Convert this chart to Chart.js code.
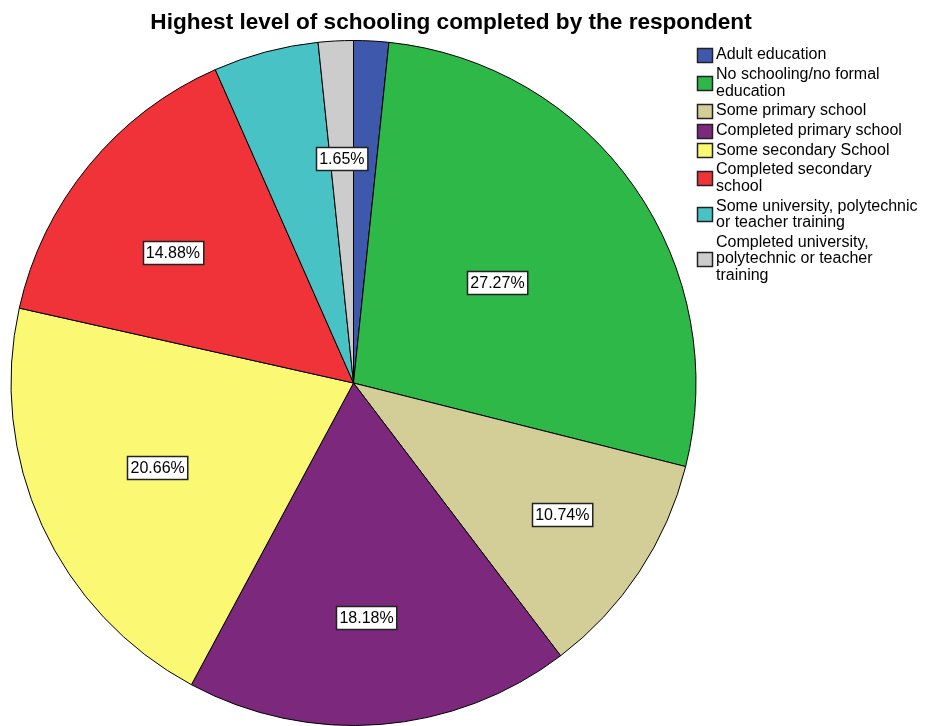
<!DOCTYPE html>
<html>
<head>
<meta charset="utf-8">
<title>Highest level of schooling</title>
<script src="https://cdn.jsdelivr.net/npm/chart.js@4/dist/chart.umd.min.js"></script>
<style>
  html, body { margin: 0; padding: 0; background: #fff; }
  #wrap { position: relative; width: 926px; height: 726px; }
</style>
</head>
<body>
<div id="wrap"><canvas id="schoolingChart"></canvas></div>
<script>
const chartTitle = 'Highest level of schooling completed by the respondent';

// legend text, one entry per slice, already split into lines
const categories = [
  ['Adult education'],
  ['No schooling/no formal', 'education'],
  ['Some primary school'],
  ['Completed primary school'],
  ['Some secondary School'],
  ['Completed secondary', 'school'],
  ['Some university, polytechnic', 'or teacher training'],
  ['Completed university,', 'polytechnic or teacher', 'training']
];

// percent of respondents
const percents = [1.65, 27.27, 10.74, 18.18, 20.66, 14.88, 4.96, 1.65];

const sliceColors = ['#3E58AC', '#2EB848', '#D3CE97', '#7C287D', '#FBF873', '#EF3338', '#48C2C5', '#CCCCCC'];

// where each value box sits: fraction of the radius (null = no box) and a small angle nudge in degrees
const labelRadius = [null, 0.513, 0.72, 0.686, 0.623, 0.651, null, 0.657];
const labelNudge = [0, 0, -1.3, 1.3, 1.2, -3.5, 0, 0];

const FONT = '"Liberation Sans", Arial, sans-serif';

const titlePlugin = {
  id: 'spssTitle',
  afterDraw(chart) {
    const ctx = chart.ctx;
    ctx.save();
    ctx.font = 'bold 22.6px ' + FONT;
    ctx.fillStyle = '#000';
    ctx.textAlign = 'center';
    ctx.textBaseline = 'middle';
    ctx.fillText(chartTitle, 451, 23);
    ctx.restore();
  }
};

const valueBoxPlugin = {
  id: 'valueBoxes',
  afterDatasetsDraw(chart) {
    const ctx = chart.ctx;
    const meta = chart.getDatasetMeta(0);
    ctx.save();
    ctx.font = '16px ' + FONT;
    ctx.textAlign = 'center';
    ctx.textBaseline = 'middle';
    meta.data.forEach((arc, i) => {
      if (labelRadius[i] == null) return;
      const mid = (arc.startAngle + arc.endAngle) / 2 + labelNudge[i] * Math.PI / 180;
      const r = arc.outerRadius * labelRadius[i];
      const x = arc.x + Math.cos(mid) * r;
      const y = arc.y + Math.sin(mid) * r;
      const text = percents[i].toFixed(2) + '%';
      const w = ctx.measureText(text).width + 6;
      const h = 23;
      const bx = Math.round(x - w / 2) + 0.5;
      const by = Math.round(y - h / 2) + 0.5;
      ctx.fillStyle = '#fff';
      ctx.fillRect(bx, by, w, h);
      ctx.strokeStyle = '#222';
      ctx.lineWidth = 1.5;
      ctx.strokeRect(bx, by, w, h);
      ctx.fillStyle = '#000';
      ctx.fillText(text, x, y + 1);
    });
    ctx.restore();
  }
};

const legendPlugin = {
  id: 'sideLegend',
  afterDraw(chart) {
    const ctx = chart.ctx;
    const lineH = 16.5;
    const gap = 3.2;
    let y = 55;
    ctx.save();
    ctx.font = '16px ' + FONT;
    ctx.textAlign = 'left';
    ctx.textBaseline = 'middle';
    categories.forEach((lines, i) => {
      const boxCy = y + (lines.length - 1) * lineH / 2;
      ctx.fillStyle = sliceColors[i];
      ctx.fillRect(697.5, Math.round(boxCy - 7) + 0.5, 15, 14);
      ctx.strokeStyle = '#222';
      ctx.lineWidth = 1.5;
      ctx.strokeRect(697.5, Math.round(boxCy - 7) + 0.5, 15, 14);
      ctx.fillStyle = '#000';
      lines.forEach((line, j) => ctx.fillText(line, 716, y + j * lineH));
      y += lines.length * lineH + gap;
    });
    ctx.restore();
  }
};

new Chart(document.getElementById('schoolingChart'), {
  type: 'pie',
  data: {
    labels: categories.map(l => l.join(' ')),
    datasets: [{
      data: percents,
      backgroundColor: sliceColors,
      borderColor: '#000',
      borderWidth: 1
    }]
  },
  options: {
    responsive: true,
    maintainAspectRatio: false,
    animation: false,
    layout: { padding: { left: 10, top: 40, right: 229, bottom: 0 } },
    plugins: {
      legend: { display: false },
      tooltip: { enabled: false }
    }
  },
  plugins: [titlePlugin, valueBoxPlugin, legendPlugin]
});
</script>
</body>
</html>
